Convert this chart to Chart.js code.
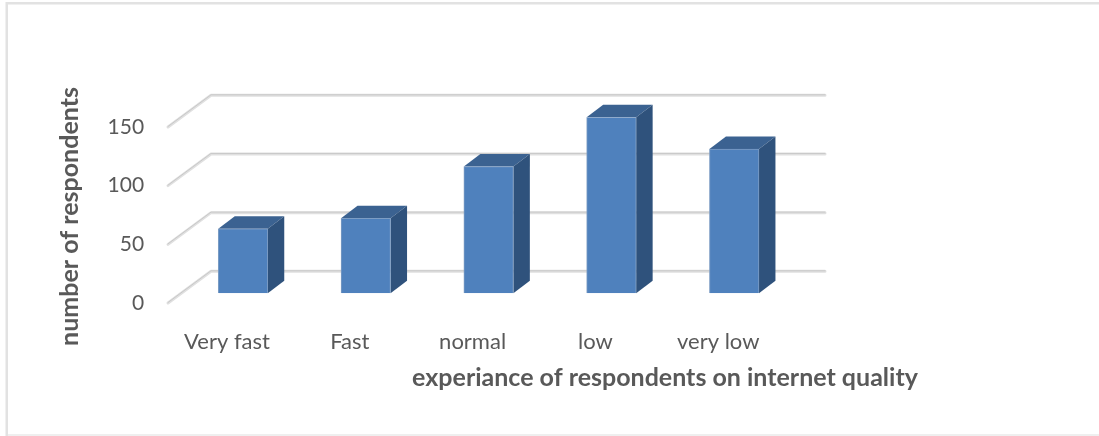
<!DOCTYPE html>
<html>
<head>
<meta charset="utf-8">
<style>
  html, body { margin: 0; padding: 0; background: #fff; }
  canvas { display: block; }
</style>
<script src="https://cdn.jsdelivr.net/npm/chart.js@4"></script>
</head>
<body>
<canvas id="chart" width="1099" height="436"></canvas>
<script>
const categories = ["Very fast", "Fast", "normal", "low", "very low"];
const respondents = [55, 64, 108, 150, 123];
const yTicks = [0, 50, 100, 150];
const xTitle = "experiance of respondents on internet quality";
const yTitle = "number of respondents";

// Oblique projection of the floor: bar plane to the front edge, bar plane to the back wall.
const FRONT = { dx: -13.6, dy: 9.7 };
const BACK = { dx: 29.4, dy: -22 };
const BAR_DEPTH = { dx: 16.5, dy: -12.5 };

const FONT = "Lato";

function polygon(ctx, pts, fill) {
  ctx.beginPath();
  pts.forEach((p, i) => (i ? ctx.lineTo(p[0], p[1]) : ctx.moveTo(p[0], p[1])));
  ctx.closePath();
  ctx.fillStyle = fill;
  ctx.fill();
}

const frame3d = {
  id: "frame3d",
  beforeDraw(chart) {
    const { ctx, width, height } = chart;
    ctx.save();
    ctx.fillStyle = "#efefef";
    ctx.fillRect(7, height - 2, width - 7, 2);
    ctx.fillStyle = "#e2e2e2";
    ctx.fillRect(6, 2, width - 6, 2.5);
    ctx.fillRect(5.5, 2, 2.5, height - 2);
    ctx.restore();
  },
  beforeDatasetsDraw(chart) {
    const { ctx, chartArea, scales } = chart;
    const yScale = scales.y;
    ctx.save();
    ctx.lineCap = "round";
    ctx.lineJoin = "round";
    yTicks.forEach((v) => {
      const y = yScale.getPixelForValue(v);
      const path = () => {
        ctx.beginPath();
        ctx.moveTo(chartArea.left + FRONT.dx, y + FRONT.dy);
        ctx.lineTo(chartArea.left + BACK.dx, y + BACK.dy);
        ctx.lineTo(chartArea.right + BACK.dx, y + BACK.dy);
      };
      path();
      ctx.strokeStyle = "#e0e0e0";
      ctx.lineWidth = 3;
      ctx.stroke();
      ctx.save();
      ctx.translate(0, -0.5);
      path();
      ctx.strokeStyle = "#c9c9c9";
      ctx.lineWidth = 1;
      ctx.stroke();
      ctx.restore();
    });
    // Roof and side faces of every bar, set back from the face the library draws.
    chart.getDatasetMeta(0).data.forEach((bar) => {
      const l = bar.x - bar.width / 2, r = bar.x + bar.width / 2;
      const t = bar.y, b = bar.base;
      const d = BAR_DEPTH;
      polygon(ctx, [[l, t], [r, t], [r + d.dx, t + d.dy], [l + d.dx, t + d.dy]], "#3b6291");
      polygon(ctx, [[r, t], [r + d.dx, t + d.dy], [r + d.dx, b + d.dy], [r, b]], "#2f527c");
    });
    ctx.restore();
  },
  afterDraw(chart) {
    const { ctx } = chart;
    ctx.save();
    ctx.fillStyle = "#595959";
    ctx.font = "bold 25px " + FONT;
    ctx.textAlign = "center";
    ctx.textBaseline = "middle";
    ctx.fillText(xTitle, 665, 378);
    ctx.translate(69.5, 216.5);
    ctx.rotate(-Math.PI / 2);
    ctx.fillText(yTitle, 0, 0);
    ctx.restore();
  }
};

new Chart(document.getElementById("chart"), {
  type: "bar",
  data: {
    labels: categories,
    datasets: [{
      data: respondents,
      backgroundColor: "#4f81bd",
      borderColor: "#7d9dc4",
      borderWidth: 1,
      barThickness: 49.5
    }]
  },
  plugins: [frame3d],
  options: {
    responsive: false,
    animation: false,
    layout: { padding: { top: 117.3, right: 303.4, left: 0, bottom: 0 } },
    plugins: { legend: { display: false }, tooltip: { enabled: false } },
    scales: {
      x: {
        grid: { display: false, drawTicks: false },
        border: { display: false },
        ticks: { color: "#595959", font: { family: FONT, size: 22 }, padding: 35, labelOffset: -16, maxRotation: 0 },
        afterFit: (s) => { s.height = 142.7; }
      },
      y: {
        min: 0,
        max: 150,
        grid: { display: false, drawTicks: false },
        border: { display: false },
        ticks: {
          color: "#595959",
          font: { family: FONT, size: 21 },
          padding: 37.5,
          labelOffset: 9.5,
          stepSize: 50
        },
        afterFit: (s) => { s.width = 181.6; }
      }
    }
  }
});
</script>
</body>
</html>
